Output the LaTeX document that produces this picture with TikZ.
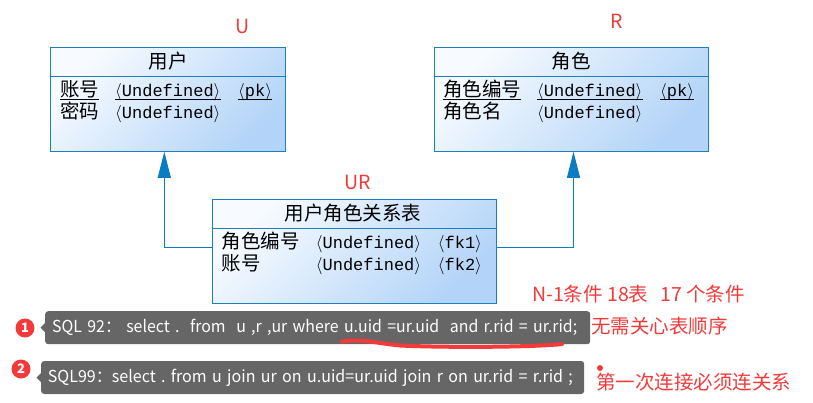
\documentclass[tikz,border=0pt]{standalone}
\usepackage{fontspec}
\usepackage{tikz}
\usetikzlibrary{arrows.meta}
\newfontfamily\cjkfont{Noto Sans CJK SC}
\newfontfamily\codefont{Liberation Mono}
\definecolor{pdblue}{HTML}{1B7FC0}
\definecolor{pdarrow}{HTML}{0A7CC1}
\definecolor{notered}{HTML}{F23A3A}
\definecolor{tipgray}{HTML}{666666}
\definecolor{shadetop}{HTML}{F7FBFF}
\definecolor{shadebot}{HTML}{B3D4F8}
\frenchspacing

\tikzset{
    table/.style={draw=pdblue, line width=0.9pt, inner sep=0pt, minimum height=104pt,
        top color=shadetop, bottom color=shadebot, shading angle=45},
    sepline/.style={pdblue, line width=0.9pt},
    uline/.style={black, line width=0.7pt},
    title/.style={anchor=base, inner sep=0pt, font=\cjkfont\fontsize{19.5}{19.5}\selectfont},
    cell/.style={anchor=base west, inner sep=0pt, font=\cjkfont\fontsize{19.5}{19.5}\selectfont},
    code/.style={anchor=base west, inner sep=0pt, font=\codefont\fontsize{17}{17}\selectfont},
    link/.style={pdarrow, line width=0.9pt, -{Triangle[width=13pt,length=26pt]}},
    redlabel/.style={text=notered, inner sep=0pt, font=\cjkfont\fontsize{19.5}{19.5}\selectfont},
    tipbox/.style={fill=tipgray, rounded corners=3pt, text=white, anchor=west, align=left,
        minimum height=33pt, inner ysep=0pt, font=\cjkfont\fontsize{16.5}{16.5}\selectfont},
    badge/.style={circle, fill=notered, text=white, minimum size=19pt, inner sep=0pt,
        font=\cjkfont\bfseries\fontsize{13}{13}\selectfont}
}

\begin{document}
\begin{tikzpicture}[x=1pt, y=-1pt]
    \useasboundingbox (0,0) rectangle (813,402);

    % table U
    \node[table, minimum width=235pt] (u) at (168.3,99.3) {};
    \draw[sepline] (u.west |- 0,76.3) -- (u.east |- 0,76.3);
    \node[title] (ut) at (168,68.5) {用户};
    \node[cell] (u1k) at (60,96.5) {账号};
    \node[code] (u1t) at (115,96.5) {$\langle$Undefined$\rangle$};
    \node[code] (u1p) at (238,96.5) {$\langle$pk$\rangle$};
    \node[cell] (u2k) at (60,118.5) {密码};
    \node[code] (u2t) at (115,118.5) {$\langle$Undefined$\rangle$};
    \draw[uline] (u1k.west |- 0,99.5) -- (u1k.east |- 0,99.5);
    \draw[uline] (u1t.west |- 0,99.5) -- (u1t.east |- 0,99.5);
    \draw[uline] (u1p.west |- 0,99.5) -- (u1p.east |- 0,99.5);

    % table R
    \node[table, minimum width=274.4pt] (r) at (571.5,99.3) {};
    \draw[sepline] (r.west |- 0,76.3) -- (r.east |- 0,76.3);
    \node[title] (rt) at (571,68.5) {角色};
    \node[cell] (r1k) at (443,96.5) {角色编号};
    \node[code] (r1t) at (537,96.5) {$\langle$Undefined$\rangle$};
    \node[code] (r1p) at (660,96.5) {$\langle$pk$\rangle$};
    \node[cell] (r2k) at (443,118.5) {角色名};
    \node[code] (r2t) at (537,118.5) {$\langle$Undefined$\rangle$};
    \draw[uline] (r1k.west |- 0,99.5) -- (r1k.east |- 0,99.5);
    \draw[uline] (r1t.west |- 0,99.5) -- (r1t.east |- 0,99.5);
    \draw[uline] (r1p.west |- 0,99.5) -- (r1p.east |- 0,99.5);

    % table UR
    \node[table, minimum width=284.4pt] (ur) at (354.5,251.3) {};
    \draw[sepline] (ur.west |- 0,228.3) -- (ur.east |- 0,228.3);
    \node[title] (urt) at (353,220.5) {用户角色关系表};
    \node[cell] (ur1k) at (221.7,248.5) {角色编号};
    \node[code] (ur1t) at (315.7,248.5) {$\langle$Undefined$\rangle$};
    \node[code] (ur1f) at (437.7,248.5) {$\langle$fk1$\rangle$};
    \node[cell] (ur2k) at (221.7,270.5) {账号};
    \node[code] (ur2t) at (315.7,270.5) {$\langle$Undefined$\rangle$};
    \node[code] (ur2f) at (437.7,270.5) {$\langle$fk2$\rangle$};

    % references
    \draw[link] ([yshift=4pt]ur.west) -| ([xshift=-4pt]u.south);
    \draw[link] ([yshift=4pt]ur.east) -| ([xshift=2pt]r.south);

    % red labels
    \node[redlabel] (lu) at (243,26) {U};
    \node[redlabel] (lr) at (617,21) {R};
    \node[redlabel] (lur) at (358,182) {UR};

    % SQL tips
    \node[tipbox, minimum width=545pt, inner xsep=7pt, text width=531pt] (t1) at (45,327.7)
        {\resizebox{525pt}{\height}{SQL 92：\ select .\ \ from\ \ u ,r ,ur where u.uid =ur.uid\ \ and r.rid = ur.rid;}};
    \fill[tipgray] (t1.west) ++(0.5,-5) -- ++(-5,5) -- ++(5,5) -- cycle;
    \node[badge] (b1) at (25,328) {1};
    \draw[notered, line width=4pt, line cap=round] (342,341.5) .. controls (362,338.5) and (375,343) .. (400,345.5)
        .. controls (440,347.5) and (530,347.5) .. (562,344);

    \node[tipbox, minimum width=543pt, inner xsep=6.7pt, text width=529.6pt] (t2) at (41,377.5)
        {\resizebox{525pt}{\height}{SQL99：select . from u join ur on u.uid=ur.uid join r on ur.rid = r.rid ;}};
    \fill[tipgray] (t2.west) ++(0.5,-5) -- ++(-5,5) -- ++(5,5) -- cycle;
    \node[badge] (b2) at (21,369) {2};

    % red notes
    \node[redlabel, anchor=west] (n1) at (532,294) {N-1条件 18表\hspace*{12pt}17 个条件};
    \node[redlabel, anchor=west] (n2) at (591,326) {无需关心表顺序};
    \fill[notered] (600,368) circle (3);
    \node[redlabel, anchor=west] (n3) at (596,382.5) {第一次连接必须连关系};
\end{tikzpicture}
\end{document}
